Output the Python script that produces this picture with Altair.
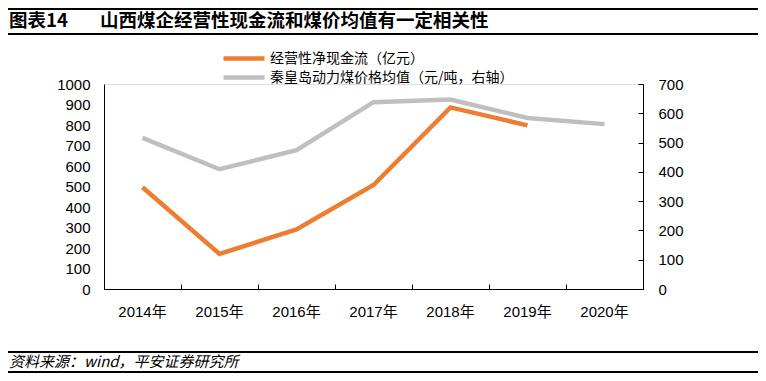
import altair as alt
import pandas as pd

years = ["2014年", "2015年", "2016年", "2017年", "2018年", "2019年", "2020年"]
cash_flow = [496, 171, 291, 507, 886, 798]
coal_price = [516, 409, 474, 638, 647, 584, 563]
series_names = ["经营性净现金流（亿元）", "秦皇岛动力煤价格均值（元/吨，右轴）"]
colors = ["#ED7D31", "#BFBFBF"]
left_ticks = list(range(0, 1001, 100))
right_ticks = list(range(0, 701, 100))

title_no = "图表14"
title_text = "山西煤企经营性现金流和煤价均值有一定相关性"
source_text = "资料来源：wind，平安证券研究所"

df_cash = pd.DataFrame({"year": years[:len(cash_flow)], "value": cash_flow, "series": series_names[0]})
df_price = pd.DataFrame({"year": years, "value": coal_price, "series": series_names[1]})
df_ann = pd.DataFrame({"t": [title_no, title_text, source_text]})

W, H = 539, 205
FONT_NUM = "Liberation Sans, Arial, Noto Sans CJK SC"
FONT_CJK = "Noto Sans CJK SC"

xscale = alt.Scale(type="band", domain=years, paddingInner=0, paddingOuter=0)
cscale = alt.Scale(domain=series_names, range=colors)

legend = alt.Legend(orient="none", legendX=132.5, legendY=-33, direction="vertical", title=None,
                    symbolType="M-4.1,0H4.1", symbolSize=100, symbolStrokeWidth=4.5,
                    labelFontSize=14, labelFont=FONT_CJK, labelColor="#000", padding=0,
                    rowPadding=0, labelOffset=18.5, symbolOpacity=1, labelLimit=0)

x_main = alt.X("year:N", scale=xscale, sort=years, bandPosition=0.5,
               axis=alt.Axis(title=None, orient="bottom", ticks=False, labelAngle=0,
                             labelFont=FONT_NUM, labelFontSize=15, labelColor="#000",
                             labelPadding=15, domainColor="#000", domainWidth=1))

orange = alt.Chart(df_cash).mark_line(strokeWidth=4.5).encode(
    x=x_main,
    y=alt.Y("value:Q", scale=alt.Scale(domain=[0, 1000], nice=False),
            axis=alt.Axis(title=None, orient="left", values=left_ticks, ticks=False, format="d",
                          labelFont=FONT_NUM, labelFontSize=15, labelColor="#000",
                          labelPadding=14, domainColor="#000", grid=False)),
    color=alt.Color("series:N", scale=cscale, legend=legend),
)

gray = alt.Chart(df_price).mark_line(strokeWidth=4.5).encode(
    x=alt.X("year:N", scale=xscale, sort=years, bandPosition=0.5, axis=None),
    y=alt.Y("value:Q", scale=alt.Scale(domain=[0, 700], nice=False),
            axis=alt.Axis(title=None, orient="right", values=right_ticks, ticks=False, format="d",
                          labelFont=FONT_NUM, labelFontSize=15, labelColor="#000",
                          labelPadding=15, domainColor="#000", grid=False)),
    color=alt.Color("series:N", scale=cscale, legend=legend),
)

# inward tick marks (x at band boundaries, right axis ticks pointing left)
ticks_layer = alt.Chart(df_price).mark_point(opacity=0).encode(
    x=alt.X("year:N", scale=xscale, sort=years,
            axis=alt.Axis(title=None, orient="top", offset=-H, labels=False, domain=False,
                          ticks=True, tickSize=5, tickColor="#000", bandPosition=0)),
    y=alt.Y("value:Q", scale=alt.Scale(domain=[0, 700], nice=False),
            axis=alt.Axis(title=None, orient="left", offset=-W, labels=False, domain=False,
                          values=right_ticks, ticks=True, tickSize=5, tickColor="#000", grid=False)),
)

t1 = alt.Chart(df_ann).transform_filter(alt.datum.t == title_no).mark_text(
    align="left", baseline="middle", font=FONT_CJK, fontSize=18.5, fontWeight="bold", color="#000"
).encode(x=alt.value(-95), y=alt.value(-63), text="t:N")
t2 = alt.Chart(df_ann).transform_filter(alt.datum.t == title_text).mark_text(
    align="left", baseline="middle", font=FONT_CJK, fontSize=18.5, fontWeight="bold", color="#000"
).encode(x=alt.value(-4), y=alt.value(-63), text="t:N")
t3 = alt.Chart(df_ann).transform_filter(alt.datum.t == source_text).mark_text(
    align="left", baseline="middle", font=FONT_CJK, fontSize=15, fontStyle="italic", color="#000"
).encode(x=alt.value(-95), y=alt.value(278), text="t:N")

rule_rows = df_ann.iloc[:1]
rules = [
    alt.Chart(rule_rows).mark_rule(color="#000", strokeWidth=2).encode(
        x=alt.value(-96), x2=alt.value(654), y=alt.value(yy))
    for yy in (-75, -50, 268, 288)
]

chart = alt.layer(orange, gray, ticks_layer, t1, t2, t3, *rules).resolve_scale(
    y="independent", color="shared"
).resolve_axis(x="independent", y="independent").properties(
    width=W, height=H,
    padding={"left": 96, "top": 76, "right": 115, "bottom": 84},
    autosize=alt.AutoSizeParams(type="none"),
).configure_view(stroke=None).configure(background="white")

chart.save("out.html", embed_options={"renderer": "svg", "actions": False})
